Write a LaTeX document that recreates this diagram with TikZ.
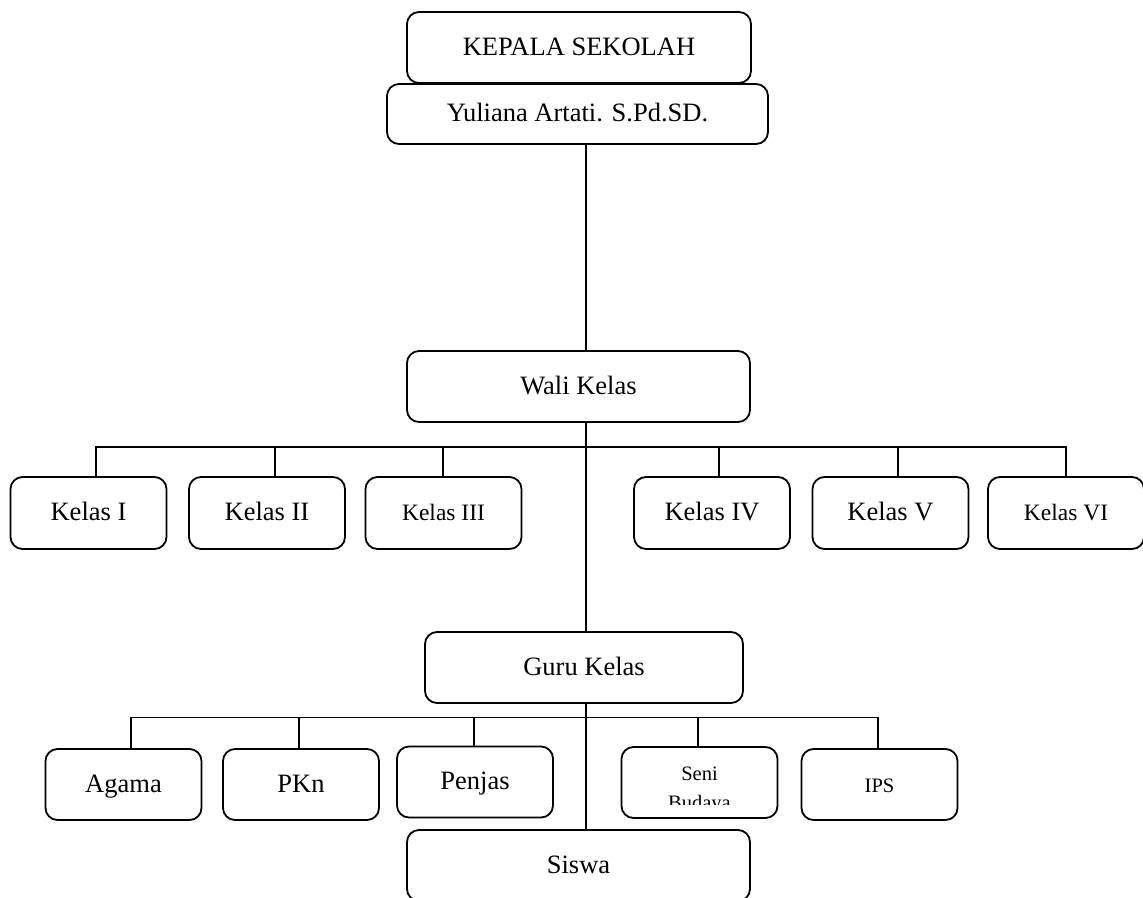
\documentclass[tikz,border=0pt]{standalone}
\usepackage{fontspec}
\setmainfont{Liberation Serif}
\usetikzlibrary{positioning}

\begin{document}
\begin{tikzpicture}[x=1pt,y=-1pt,line width=1.8pt,
  kotak/.style={draw,rounded corners=12pt,minimum height=71pt,inner sep=0pt,text height=17.5pt,text depth=2pt,font=\fontsize{26.5}{30}\selectfont},
  kelas/.style={kotak,minimum width=156pt,minimum height=72pt},
  mapel/.style={kotak,minimum width=156pt},
  kecil/.style={font=\fontsize{23.5}{28}\selectfont},
  kecilsekali/.style={font=\fontsize{20.5}{29}\selectfont}]
  \clip (0,0) rectangle (1143,897);
  \node[kotak,minimum width=344pt](kepsek) at (579,47.5) {KEPALA SEKOLAH};
  \node[kotak,minimum width=381pt,minimum height=60pt](nama) at (577.5,114) {Yuliana Artati. S.Pd.SD.};
  \node[kotak,minimum width=343pt](wali) at (578.5,386.5) {Wali Kelas};
  \node[kelas](k1) at (88.5,513) {Kelas I};
  \node[kelas](k2) at (267,513) {Kelas II};
  \node[kelas,kecil](k3) at (443.5,513) {Kelas III};
  \node[kelas](k4) at (712,513) {Kelas IV};
  \node[kelas](k5) at (890.5,513) {Kelas V};
  \node[kelas,kecil](k6) at (1066,513) {Kelas VI};
  \node[kotak,minimum width=318pt](guru) at (584,667.5) {Guru Kelas};
  \node[mapel](agama) at (123.5,784.5) {Agama};
  \node[mapel](pkn) at (301,784.5) {PKn};
  \node[mapel](penjas) at (475,782) {Penjas};
  \node[mapel](seni) at (699.5,782.5) {};
  \node[mapel,kecilsekali](ips) at (879.5,784.5) {IPS};
  \node[kotak,minimum width=343pt](siswa) at (578.5,865.5) {Siswa};
  \begin{scope}
    \clip (seni.north west) rectangle (777,804);
    \node[kecilsekali,align=center,anchor=north,inner sep=0pt](senitext) at (699.5,766) {Seni\\Budaya};
  \end{scope}
  \coordinate (spine) at (586,0);
  \coordinate (bar1) at (0,447);
  \coordinate (bar2) at (0,717.5);
  \draw (nama.south -| spine) -- (wali.north -| spine);
  \draw (wali.south -| spine) -- (guru.north -| spine);
  \draw (guru.south -| spine) -- (siswa.north -| spine);
  \draw ([xshift=7.5pt]k1.north) |- (bar1 -| k6.north) -- (k6.north);
  \foreach \n/\dx in {k2/8,k3/-0.5,k4/7,k5/7.5}
    \draw ([xshift=\dx pt]\n.north) -- ([xshift=\dx pt]\n.north |- bar1);
  \draw ([xshift=7.5pt]agama.north) |- ([xshift=-1.5pt]bar2 -| ips.north) -- ([xshift=-1.5pt]ips.north);
  \foreach \n/\dx in {pkn/-2,penjas/-1,seni/-1.5}
    \draw ([xshift=\dx pt]\n.north) -- ([xshift=\dx pt]\n.north |- bar2);
\end{tikzpicture}
\end{document}
